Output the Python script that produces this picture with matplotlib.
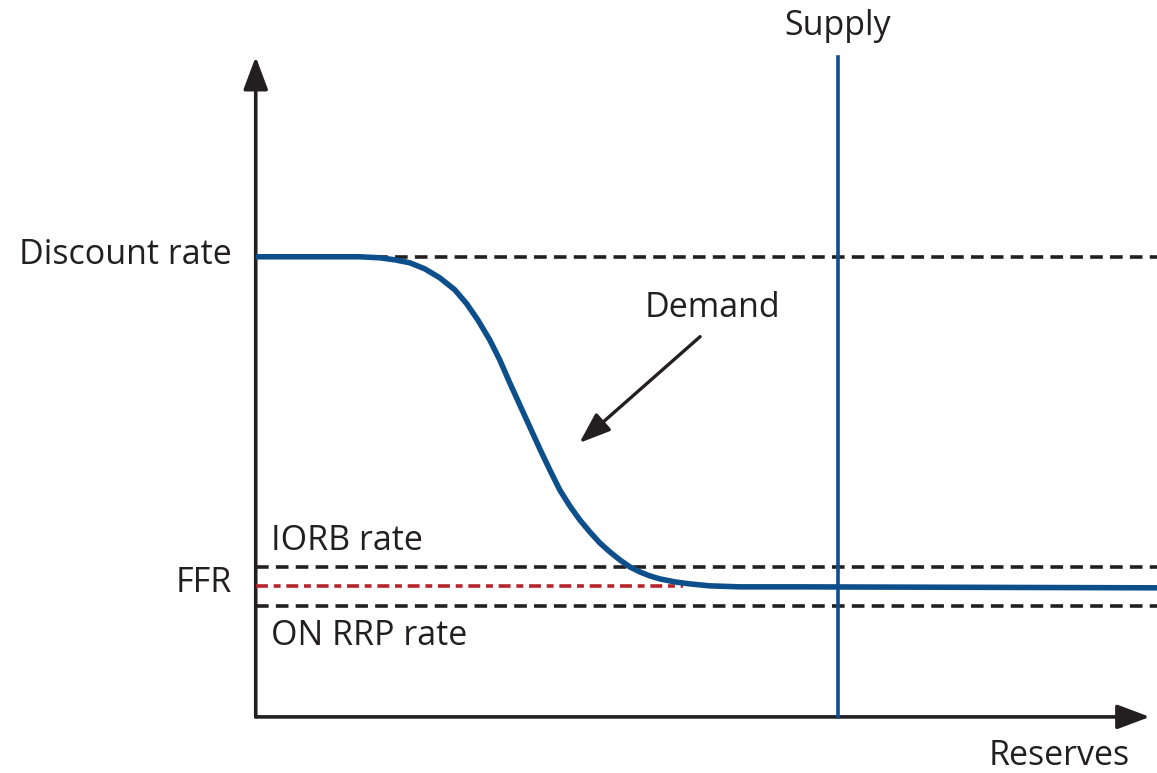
import numpy as np
import matplotlib.pyplot as plt
from matplotlib.patches import FancyArrowPatch

plt.rcParams['font.family'] = ['Open Sans', 'DejaVu Sans']

# levels (arbitrary units, axis spans 0..100)
discount_rate = 69.7
iorb_rate = 22.7
ffr = 19.8
on_rrp_rate = 16.8
supply = 65.1
ffr_end = 47.8

# demand curve
demand_x = [0, 11.63, 13.87, 15.55, 17.23, 18.90, 20.58, 22.26, 23.60, 24.83,
            26.17, 27.29, 28.41, 29.53, 30.65, 31.77, 32.89, 34.00, 35.12, 36.24,
            37.36, 38.48, 39.60, 40.72, 41.83, 42.95, 44.07, 45.19, 46.87, 48.55,
            50.78, 54.14, 60.85, 101]
demand_y = [69.70, 69.70, 69.55, 69.24, 68.79, 67.88, 66.52, 64.70, 62.58, 60.15,
            57.12, 54.09, 50.61, 47.27, 43.94, 40.61, 37.42, 34.39, 31.97, 29.85,
            28.03, 26.36, 25.00, 23.79, 22.73, 21.97, 21.36, 20.91, 20.45, 20.15,
            19.85, 19.70, 19.70, 19.55]

ink = '#231f20'
blue = '#0d4f8b'
red = '#b5252b'

fig = plt.figure(figsize=(11.57, 7.73), dpi=100)
ax = fig.add_axes([0, 0, 1, 1])
ax.set_xlim(-28.6, 100.8)
ax.set_ylim(-8.5, 108.6)
ax.axis('off')

lw = 2.6
dash = (0, (3.5, 2.0))
ax.plot([0, 101], [discount_rate] * 2, color=ink, lw=lw, ls=dash)
ax.plot([0, 101], [iorb_rate] * 2, color=ink, lw=lw, ls=dash)
ax.plot([0, 101], [on_rrp_rate] * 2, color=ink, lw=lw, ls=dash)
ax.plot([0, ffr_end], [ffr] * 2, color=red, lw=lw, ls=(0, (3.3, 1.6, 1.9, 1.6)))

ax.plot([supply, supply], [0, 100], color=blue, lw=2.6)
ax.plot(demand_x, demand_y, color=blue, lw=4.0, solid_capstyle='butt',
        solid_joinstyle='round')

# axes with arrows
for start, end in [((0, 0), (0, 100)), ((0, 0), (100, 0))]:
    ax.add_patch(FancyArrowPatch(start, end, arrowstyle='-|>,head_length=2.0,head_width=0.75',
                                 mutation_scale=10, color=ink, lw=2.6, shrinkA=0, shrinkB=0))

ax.add_patch(FancyArrowPatch((49.7, 57.6), (36.2, 41.5),
                             arrowstyle='-|>,head_length=1.9,head_width=0.7',
                             mutation_scale=10, color=ink, lw=2.4, shrinkA=0, shrinkB=0))

fs = 24.5
ax.text(65.1, 104.6, 'Supply', ha='center', va='center', fontsize=fs, color=ink)
ax.text(51.1, 62.0, 'Demand', ha='center', va='center', fontsize=fs, color=ink)
ax.text(89.9, -6.0, 'Reserves', ha='center', va='center', fontsize=fs, color=ink)
ax.text(-2.7, discount_rate + 0.3, 'Discount rate', ha='right', va='center', fontsize=fs, color=ink)
ax.text(-2.7, 20.3, 'FFR', ha='right', va='center', fontsize=fs, color=ink)
ax.text(1.7, 26.7, 'IORB rate', ha='left', va='center', fontsize=fs, color=ink)
ax.text(1.7, 12.2, 'ON RRP rate', ha='left', va='center', fontsize=fs, color=ink)

fig.savefig('out.png', dpi=100)
